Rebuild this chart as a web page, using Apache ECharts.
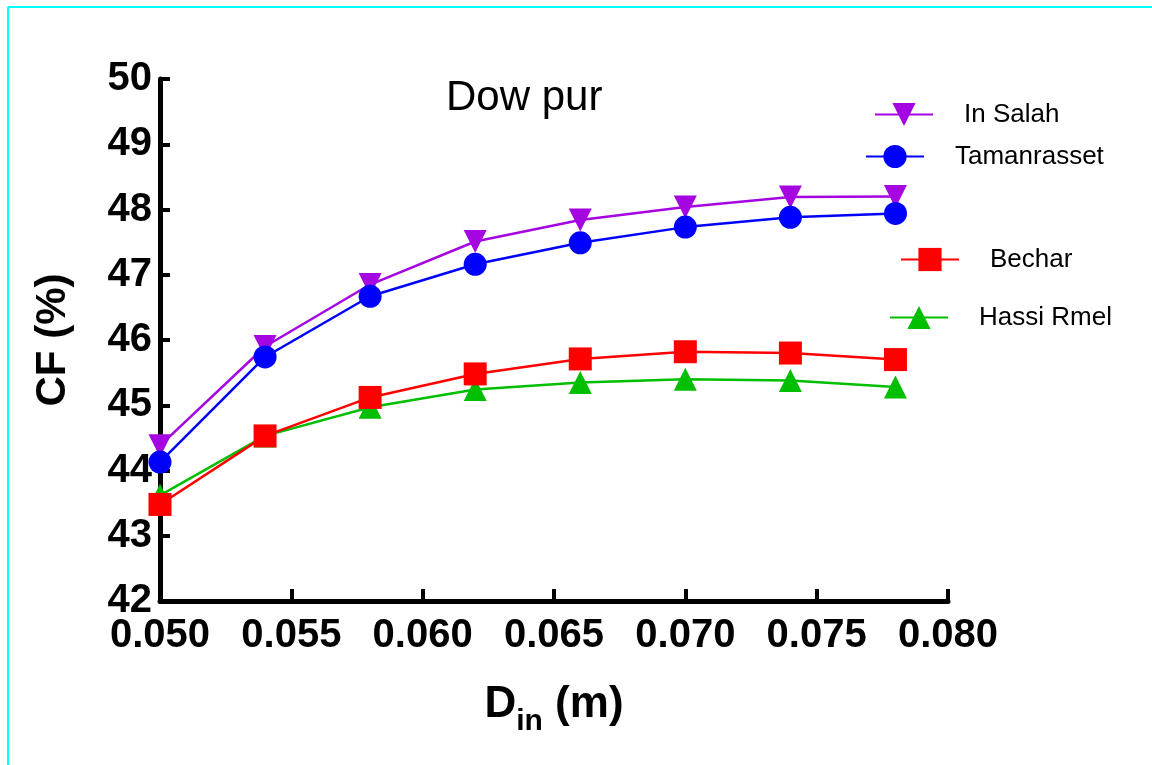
<!DOCTYPE html>
<html>
<head>
<meta charset="utf-8">
<script src="https://cdn.jsdelivr.net/npm/echarts@6/dist/echarts.min.js"></script>
<style>
html,body{margin:0;padding:0;background:#fff;}
#chart{width:1152px;height:765px;}
</style>
</head>
<body>
<div id="chart"></div>
<script>
// Data
const dIn = [0.050, 0.054, 0.058, 0.062, 0.066, 0.070, 0.074, 0.078];
const inSalah     = [44.38, 45.90, 46.85, 47.51, 47.84, 48.04, 48.19, 48.20];
const tamanrasset = [44.13, 45.74, 46.67, 47.16, 47.49, 47.73, 47.88, 47.94];
const bechar      = [43.48, 44.53, 45.12, 45.48, 45.71, 45.82, 45.80, 45.70];
const hassiRmel   = [43.62, 44.53, 44.97, 45.24, 45.35, 45.40, 45.38, 45.28];
const xTicks = ['0.050','0.055','0.060','0.065','0.070','0.075','0.080'];
const yTicks = ['42','43','44','45','46','47','48','49','50'];

const FONT = 'Liberation Sans, Arial, sans-serif';
const pair = (xs, ys) => xs.map((x, i) => [x, ys[i]]);

const chart = echarts.init(document.getElementById('chart'));

function mkSeries(name, data, color, symbol, rotate) {
  return {
    name, type: 'line', data: pair(dIn, data),
    symbol, symbolSize: 23, symbolRotate: rotate || 0,
    showAllSymbol: true,
    lineStyle: { color, width: 2.5 },
    itemStyle: { color },
    emphasis: { disabled: true },
    animation: false
  };
}

function mkLegend(name, left, cy) {
  const h = 29;
  return {
    data: [name], left, top: cy - h / 2, padding: 0,
    itemWidth: 58, itemHeight: h,
    selectedMode: false,
    textStyle: { fontFamily: FONT, fontSize: 26, color: '#000', padding: [0, 0, 0, 26] }
  };
}

const option = {
  backgroundColor: '#fff',
  animation: false,
  title: {
    text: 'Dow pur', left: 446, top: 77, padding: 0,
    textStyle: { fontFamily: FONT, fontSize: 42, fontWeight: 'normal', color: '#000' }
  },
  legend: [
    mkLegend('In Salah', 874, 116),
    mkLegend('Tamanrasset', 865, 158),
    mkLegend('Bechar', 900, 261),
    mkLegend('Hassi Rmel', 889, 319)
  ],
  grid: { left: 160, right: 204, top: 79, bottom: 164, containLabel: false },
  xAxis: {
    type: 'value', min: 0.05, max: 0.08, interval: 0.005,
    name: '{d|D}{s|in}{d| (m)}',
    nameLocation: 'middle', nameGap: 76,
    nameTextStyle: {
      rich: {
        d: { fontFamily: FONT, fontSize: 44, fontWeight: 'bold', color: '#000', verticalAlign: 'bottom', lineHeight: 50 },
        s: { fontFamily: FONT, fontSize: 30, fontWeight: 'bold', color: '#000', verticalAlign: 'bottom', lineHeight: 40, padding: [0, 0, -10, 0] }
      }
    },
    axisLine: { show: true, onZero: false, lineStyle: { color: '#000', width: 5 } },
    axisTick: { show: true, inside: true, length: 12, lineStyle: { color: '#000', width: 4 } },
    axisLabel: {
      margin: 15, fontFamily: FONT, fontSize: 40, fontWeight: 'bold', color: '#000',
      formatter: v => xTicks[Math.round((v - 0.05) / 0.005)] || ''
    },
    splitLine: { show: false }
  },
  yAxis: {
    type: 'value', min: 42, max: 50, interval: 1,
    name: 'CF (%)', nameLocation: 'middle', nameGap: 86, nameRotate: 90,
    nameTextStyle: { fontFamily: FONT, fontSize: 42, fontWeight: 'bold', color: '#000' },
    axisLine: { show: true, onZero: false, lineStyle: { color: '#000', width: 5 } },
    axisTick: { show: true, inside: true, length: 10, lineStyle: { color: '#000', width: 4 } },
    axisLabel: {
      margin: 8, fontFamily: FONT, fontSize: 40, fontWeight: 'bold', color: '#000',
      formatter: v => yTicks[Math.round(v - 42)] || ''
    },
    splitLine: { show: false }
  },
  graphic: [
    { type: 'line', shape: { x1: 8, y1: 7, x2: 8, y2: 765 }, style: { stroke: '#00FFFF', lineWidth: 2 } },
    { type: 'line', shape: { x1: 8, y1: 7, x2: 1152, y2: 7 }, style: { stroke: '#00FFFF', lineWidth: 2 } }
  ],
  series: [
    mkSeries('In Salah', inSalah, '#A505E1', 'triangle', 180),
    mkSeries('Hassi Rmel', hassiRmel, '#00BF00', 'triangle', 0),
    mkSeries('Tamanrasset', tamanrasset, '#0000FF', 'circle', 0),
    mkSeries('Bechar', bechar, '#FF0000', 'rect', 0)
  ]
};
chart.setOption(option);
</script>
</body>
</html>
